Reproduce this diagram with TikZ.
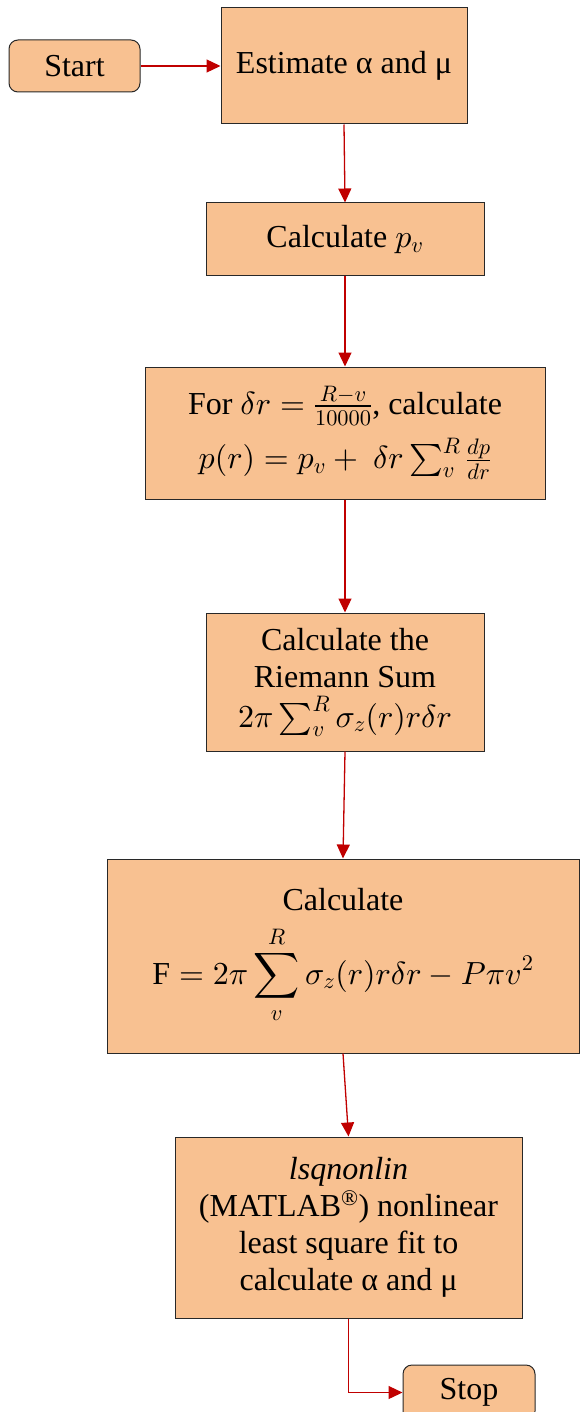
\documentclass[tikz,border=0pt]{standalone}
\usepackage{amsmath}
\usepackage{fontspec}
\setmainfont{Liberation Serif}
\DeclareFontShape{OML}{cmm}{m}{it}{<->cmmi10}{}
\DeclareFontShape{OMS}{cmsy}{m}{n}{<->cmsy10}{}
\DeclareFontShape{OMX}{cmex}{m}{n}{<->cmex10}{}
\DeclareFontShape{OT1}{cmr}{m}{n}{<->cmr10}{}
\usetikzlibrary{arrows.meta}
\definecolor{boxfill}{RGB}{248,193,145}
\definecolor{arrred}{RGB}{192,0,0}
\definecolor{boxline}{RGB}{40,40,40}
\begin{document}
\begin{tikzpicture}[x=1pt,y=-1pt,
  box/.style={draw=boxline,line width=1pt,fill=boxfill,align=center,inner sep=0pt,
    font=\fontsize{32}{37}\selectfont},
  term/.style={box,rounded corners=9pt},
  conn/.style={draw=arrred,line width=1.3pt,-{Triangle[length=14pt,width=13pt]}}]
\useasboundingbox (0,0) rectangle (579,1412);
\node[term,minimum width=131pt,minimum height=52pt] (start) at (74.5,66) {Start};
\node[box,minimum width=246pt,minimum height=116pt] (est) at (344,66) {Estimate α and μ};
\node[box,minimum width=278pt,minimum height=73pt] (pv) at (345,239.5) {Calculate $p_v$};
\node[box,minimum width=400pt,minimum height=132pt] (pr) at (345,433)
  {For $\delta r = \frac{R-v}{10000}$, calculate\\[12pt] $p(r) = p_v +\ \delta r \sum_v^R \frac{dp}{dr}$};
\node[box,minimum width=278pt,minimum height=138pt] (rs) at (345,682)
  {Calculate the\\ Riemann Sum\\[3pt] $2\pi \sum_v^R \sigma_z(r) r\delta r$};
\node[box,minimum width=472pt,minimum height=194pt] (fc) at (343,956)
  {Calculate\\[14pt] $\displaystyle \mathrm{F} = 2\pi \sum_v^R \sigma_z(r) r\delta r - P\pi v^2$};
\node[box,minimum width=347pt,minimum height=181pt] (lsq) at (348.5,1227.5)
  {\textit{lsqnonlin}\\ (MATLAB\textsuperscript{®}) nonlinear\\ least square fit to\\ calculate α and μ};
\node[term,minimum width=132pt,minimum height=55pt] (stop) at (469,1392.5) {Stop};
\draw[conn] (start.east) -- (est.west);
\draw[conn] (est.south) -- (pv.north);
\draw[conn] (pv.south) -- (pr.north);
\draw[conn] (pr.south) -- (rs.north);
\draw[conn] (rs.south) -- (fc.north);
\draw[conn] (fc.south) -- (lsq.north);
\draw[conn] (lsq.south) |- (stop.west);
\end{tikzpicture}
\end{document}
